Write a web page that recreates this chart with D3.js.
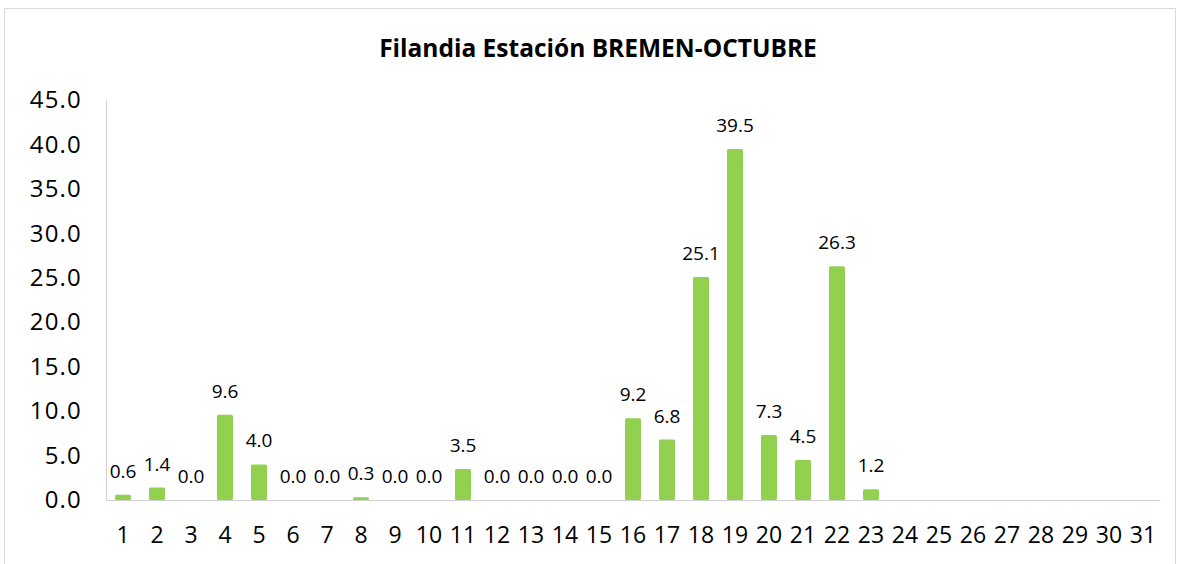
<!DOCTYPE html>
<html>
<head>
<meta charset="utf-8">
<script src="https://d3js.org/d3.v7.min.js"></script>
<style>
  body { margin: 0; background: #fff; }
  svg { display: block; }
  text { font-family: "Open Sans", "Noto Sans", sans-serif; fill: #000; }
</style>
</head>
<body>
<svg id="chart"></svg>
<script>
// daily rainfall, October (days 24-31 without data)
const days = d3.range(1, 32).map(String);
const values = [0.6, 1.4, 0.0, 9.6, 4.0, 0.0, 0.0, 0.3, 0.0, 0.0,
                3.5, 0.0, 0.0, 0.0, 0.0, 9.2, 6.8, 25.1, 39.5, 7.3,
                4.5, 26.3, 1.2, null, null, null, null, null, null, null, null];
const yTicks = [0, 5, 10, 15, 20, 25, 30, 35, 40, 45];
const title = "Filandia Estación BREMEN-OCTUBRE";

const width = 1177, height = 564;
const margin = {top: 100, right: 17, bottom: 64, left: 106};

const svg = d3.select("#chart").attr("width", width).attr("height", height);

// chart frame
svg.append("rect")
    .attr("x", 4.5).attr("y", 8.5)
    .attr("width", width - 6).attr("height", height - 6)
    .attr("fill", "none").attr("stroke", "#d9d9d9");

const x = d3.scaleBand()
    .domain(days)
    .range([margin.left, width - margin.right])
    .paddingInner(0.53).paddingOuter(0.265);

const y = d3.scaleLinear()
    .domain([0, 45])
    .range([height - margin.bottom, margin.top]);

svg.append("text")
    .attr("x", 598).attr("y", 57)
    .attr("text-anchor", "middle")
    .style("font-size", "24.5px").style("font-weight", "bold")
    .text(title);

// y axis
const yAxis = svg.append("g")
    .attr("transform", `translate(${margin.left},0)`)
    .call(d3.axisLeft(y).tickValues(yTicks).tickFormat(d3.format(".1f")).tickSize(0).tickPadding(24));
yAxis.select(".domain").attr("stroke", "#d0d0d0");
yAxis.selectAll("text").style("font-size", "24px").style("letter-spacing", "1.2px").attr("fill", "#000");

// x axis
const xAxis = svg.append("g")
    .attr("transform", `translate(0,${y(0)})`)
    .call(d3.axisBottom(x).tickSize(0).tickPadding(27));
xAxis.select(".domain").attr("stroke", "#d0d0d0");
xAxis.selectAll("text").style("font-size", "23px").attr("fill", "#000");

const data = days.map((d, i) => ({day: d, v: values[i]})).filter(d => d.v !== null);

svg.append("g").selectAll("rect")
    .data(data)
    .enter().append("rect")
    .attr("x", d => x(d.day))
    .attr("y", d => y(d.v))
    .attr("width", x.bandwidth())
    .attr("height", d => y(0) - y(d.v))
    .attr("rx", 1.5)
    .attr("fill", "#92d050");

svg.append("g").selectAll("text")
    .data(data)
    .enter().append("text")
    .attr("x", d => x(d.day) + x.bandwidth() / 2)
    .attr("y", d => y(d.v) - 17)
    .attr("text-anchor", "middle")
    .style("font-size", "19px")
    .attr("fill", "#222")
    .text(d => d3.format(".1f")(d.v));
</script>
</body>
</html>
